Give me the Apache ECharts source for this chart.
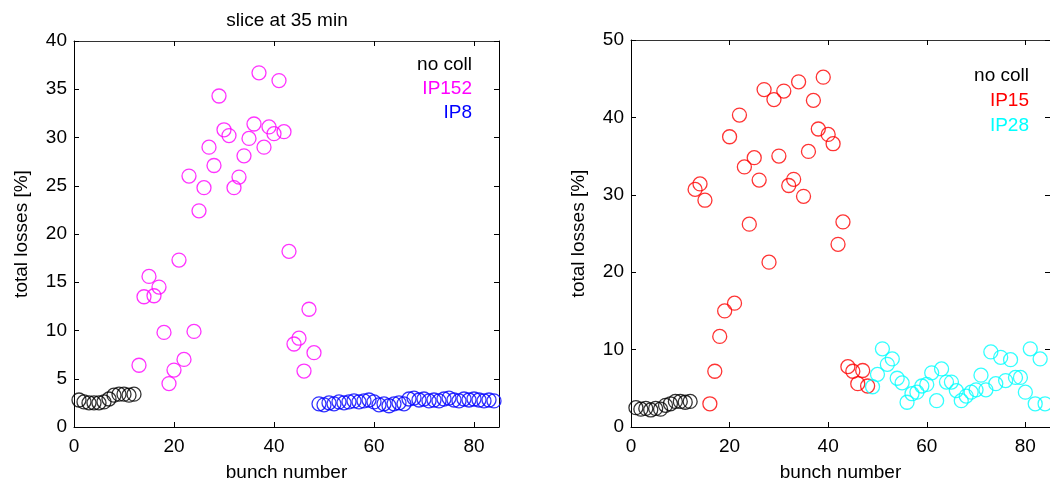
<!DOCTYPE html>
<html>
<head>
<meta charset="utf-8">
<script src="https://cdn.jsdelivr.net/npm/echarts@6/dist/echarts.min.js"></script>
<style>html,body{margin:0;padding:0;background:#fff;}#c{width:1050px;height:487px;}</style>
</head>
<body>
<div id="c"></div>
<script>
// ---- left panel (slice at 35 min) ----
const noCollBunchL = [1,2,3,4,5,6,7,8,9,10,11,12];
const noCollL = [2.8,2.6,2.5,2.5,2.5,2.6,2.9,3.3,3.4,3.4,3.3,3.4];
const ip152Bunch = [13,14,15,16,17,18,19,20,21,22,23,24,25,26,27,28,29,30,31,32,33,34,35,36,37,38,39,40,41,42,43,44,45,46,47,48];
const ip152 = [6.4,13.5,15.6,13.6,14.5,9.8,4.5,5.9,17.3,7.0,26.0,9.9,22.4,24.8,29.0,27.1,34.3,30.8,30.2,24.8,25.9,28.1,29.9,31.4,36.7,29.0,31.1,30.4,35.9,30.6,18.2,8.6,9.2,5.8,12.2,7.7];
const ip8Bunch = [49,50,51,52,53,54,55,56,57,58,59,60,61,62,63,64,65,66,67,68,69,70,71,72,73,74,75,76,77,78,79,80,81,82,83,84];
const ip8 = [2.4,2.3,2.5,2.4,2.6,2.5,2.6,2.7,2.6,2.7,2.8,2.6,2.3,2.4,2.2,2.4,2.5,2.4,2.9,3.0,2.8,2.9,2.7,2.8,2.7,2.9,3.0,2.8,2.7,2.9,2.8,2.9,2.8,2.7,2.8,2.7];

// ---- right panel ----
const noCollBunchR = [1,2,3,4,5,6,7,8,9,10,11,12];
const noCollR = [2.5,2.3,2.4,2.2,2.4,2.3,2.8,3.0,3.3,3.3,3.2,3.3];
const ip15Bunch = [13,14,15,16,17,18,19,20,21,22,23,24,25,26,27,28,29,30,31,32,33,34,35,36,37,38,39,40,41,42,43,44,45,46,47,48];
const ip15 = [30.7,31.4,29.3,3.0,7.2,11.7,15.0,37.5,16.0,40.3,33.6,26.2,34.8,31.9,43.6,21.3,42.3,35.0,43.4,31.2,32.0,44.6,29.8,35.6,42.2,38.5,45.2,37.8,36.6,23.6,26.5,7.8,7.2,5.6,7.3,5.3];
const ip28Bunch = [49,50,51,52,53,54,55,56,57,58,59,60,61,62,63,64,65,66,67,68,69,70,71,72,73,74,75,76,77,78,79,80,81,82,83,84];
const ip28 = [5.2,6.8,10.1,8.1,8.8,6.3,5.7,3.2,4.3,4.5,5.3,5.5,7.0,3.4,7.5,5.8,5.8,4.7,3.4,4.0,4.5,4.8,6.7,4.8,9.7,5.6,9.0,6.0,8.7,6.4,6.4,4.5,10.1,3.0,8.8,3.0];

const xTicks = [0,20,40,60,80];
const yTicksL = [0,5,10,15,20,25,30,35,40];
const yTicksR = [0,10,20,30,40,50];

const FONT = 'Liberation Sans, Arial, sans-serif';
const FS = 19;

function pairs(xs, ys){ return xs.map((x,i)=>[x, ys[i]]); }

function mainX(gi){
  return {
    type:'value', gridIndex:gi, min:0, max:85, interval:20, position:'bottom',
    name:'bunch number', nameLocation:'middle', nameGap:36,
    nameTextStyle:{fontFamily:FONT,fontSize:FS,color:'#000'},
    axisLine:{show:true,onZero:false,lineStyle:{color:'#000',width:1}},
    axisTick:{show:true,inside:true,length:5,lineStyle:{color:'#000'}},
    axisLabel:{fontFamily:FONT,fontSize:FS,color:'#000',margin:10,showMaxLabel:false},
    splitLine:{show:false}
  };
}
function topX(gi){
  return {
    type:'value', gridIndex:gi, min:0, max:85, interval:20, position:'top',
    axisLine:{show:true,onZero:false,lineStyle:{color:'#333',width:1}},
    axisTick:{show:true,inside:true,length:5,lineStyle:{color:'#000'}},
    axisLabel:{show:false}, splitLine:{show:false}
  };
}
function mainY(gi, max, interval){
  return {
    type:'value', gridIndex:gi, min:0, max:max, interval:interval, position:'left',
    name:'total losses [%]', nameLocation:'middle', nameGap:43,
    nameTextStyle:{fontFamily:FONT,fontSize:FS,color:'#000'},
    axisLine:{show:true,onZero:false,lineStyle:{color:'#000',width:1}},
    axisTick:{show:true,inside:true,length:5,lineStyle:{color:'#000'}},
    axisLabel:{fontFamily:FONT,fontSize:FS,color:'#000',margin:7},
    splitLine:{show:false}
  };
}
function rightY(gi, max, interval){
  return {
    type:'value', gridIndex:gi, min:0, max:max, interval:interval, position:'right',
    axisLine:{show:true,onZero:false,lineStyle:{color:'#000',width:1}},
    axisTick:{show:true,inside:true,length:5,lineStyle:{color:'#000'}},
    axisLabel:{show:false}, splitLine:{show:false}
  };
}
function sc(name, xi, yi, data, color){
  return {
    name:name, type:'scatter', xAxisIndex:xi, yAxisIndex:yi, data:data,
    symbol:'circle', symbolSize:14,
    itemStyle:{color:'rgba(0,0,0,0)', borderColor:color, borderWidth:1.3},
    emphasis:{disabled:true}, animation:false
  };
}

const chart = echarts.init(document.getElementById('c'), null, {renderer:'canvas'});
chart.setOption({
  animation:false,
  backgroundColor:'#fff',
  title:{text:'slice at 35 min', left:282, top:6, textAlign:'center',
         textStyle:{fontFamily:FONT,fontSize:FS,fontWeight:'normal',color:'#000'}},
  grid:[
    {left:74, top:41, width:425, height:387},
    {left:631, top:40, width:425, height:388}
  ],
  xAxis:[mainX(0), topX(0), mainX(1), topX(1)],
  yAxis:[mainY(0,40,5), rightY(0,40,5), mainY(1,50,10), rightY(1,50,10)],
  series:[
    sc('no coll',0,0,pairs(noCollBunchL,noCollL),'#000000'),
    sc('IP152',0,0,pairs(ip152Bunch,ip152),'#ff00ff'),
    sc('IP8',0,0,pairs(ip8Bunch,ip8),'#0000ff'),
    sc('no coll',2,2,pairs(noCollBunchR,noCollR),'#000000'),
    sc('IP15',2,2,pairs(ip15Bunch,ip15),'#ff0000'),
    sc('IP28',2,2,pairs(ip28Bunch,ip28),'#00ffff')
  ],
  graphic:[
    {type:'text', right:1050-472, top:55, style:{text:'no coll', fill:'#000', font:FS+'px '+FONT, textAlign:'right'}},
    {type:'text', right:1050-472, top:79, style:{text:'IP152', fill:'#ff00ff', font:FS+'px '+FONT, textAlign:'right'}},
    {type:'text', right:1050-472, top:103, style:{text:'IP8', fill:'#0000ff', font:FS+'px '+FONT, textAlign:'right'}},
    {type:'text', right:1050-1029, top:66, style:{text:'no coll', fill:'#000', font:FS+'px '+FONT, textAlign:'right'}},
    {type:'text', right:1050-1029, top:91, style:{text:'IP15', fill:'#ff0000', font:FS+'px '+FONT, textAlign:'right'}},
    {type:'text', right:1050-1029, top:116, style:{text:'IP28', fill:'#00ffff', font:FS+'px '+FONT, textAlign:'right'}}
  ]
});
</script>
</body>
</html>
